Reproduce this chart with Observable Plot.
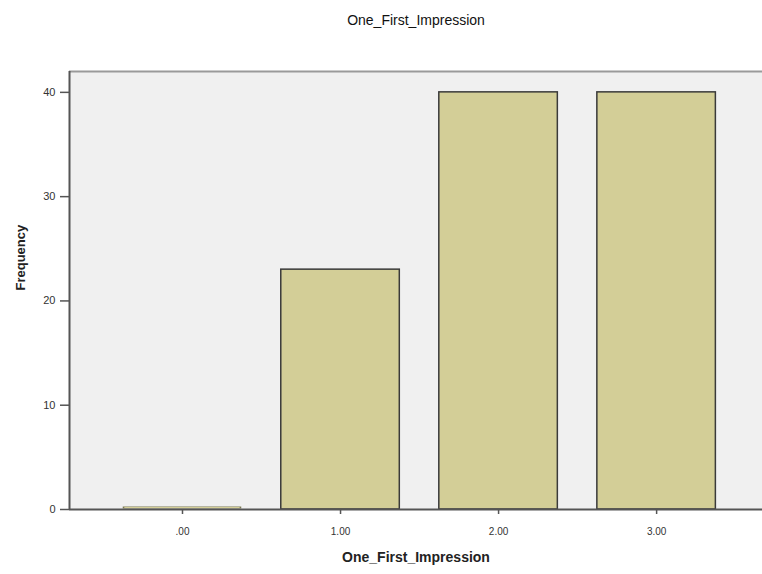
<!DOCTYPE html>
<html>
<head>
<meta charset="utf-8">
<script src="https://cdn.jsdelivr.net/npm/d3@7"></script>
<script src="https://cdn.jsdelivr.net/npm/@observablehq/plot@0.6"></script>
<style>
  body { margin: 0; background: #fff; }
  svg { font-family: "Liberation Sans", Arial, sans-serif; }
</style>
</head>
<body>
<div id="chart"></div>
<script>
const categories = [0, 1, 2, 3];
const xLabels = [".00", "1.00", "2.00", "3.00"];
const frequencies = [0, 23, 40, 40];
const yTicks = [0, 10, 20, 30, 40];
const title = "One_First_Impression";
const xTitle = "One_First_Impression";
const yTitle = "Frequency";

const data = categories.map((c, i) => ({ c, label: xLabels[i], f: frequencies[i] }));
const half = 0.375;

const chart = Plot.plot({
  width: 762,
  height: 574,
  marginTop: 71,
  marginLeft: 69,
  marginRight: 0,
  marginBottom: 65,
  style: { fontFamily: "'Liberation Sans', Arial, sans-serif", background: "#fff" },
  x: { type: "linear", domain: [-0.715, 3.67], label: null },
  y: { domain: [0, 42.0], label: null },
  marks: [
    Plot.frame({ fill: "#f0f0f0", stroke: null }),
    Plot.ruleY([42.0], { stroke: "#9a9a9a", strokeWidth: 2 }),
    Plot.rectY(data.filter(d => d.f > 0), {
      x1: d => d.c - half,
      x2: d => d.c + half,
      y1: 0,
      y2: "f",
      fill: "#d3ce97",
      stroke: "#3a3a3a",
      strokeWidth: 1.5
    }),
    Plot.ruleY(data.filter(d => d.f === 0), {
      x1: d => d.c - half,
      x2: d => d.c + half,
      y: "f",
      dy: -2,
      stroke: "#7d7a55",
      strokeWidth: 2
    }),
    Plot.ruleY(data.filter(d => d.f === 0), {
      x1: d => d.c - half + 0.01,
      x2: d => d.c + half - 0.01,
      y: "f",
      dy: -2,
      stroke: "#d3ce97",
      strokeWidth: 1
    }),
    Plot.ruleX([-0.715], { stroke: "#555", strokeWidth: 2 }),
    Plot.ruleY([0], { stroke: "#555", strokeWidth: 2 }),
    Plot.axisY(yTicks, {
      tickSize: 9,
      tickPadding: 5,
      fontSize: 11,
      stroke: "#555",
      strokeWidth: 1.5,
      color: "#333",
      label: null
    }),
    Plot.axisX(categories, {
      tickSize: 5,
      tickPadding: 13,
      fontSize: 10,
      stroke: "#555",
      strokeWidth: 1.5,
      color: "#333",
      tickFormat: d => xLabels[d],
      label: null
    }),
    Plot.text([title], {
      frameAnchor: "top",
      dy: -56,
      fontSize: 14,
      fontWeight: 500,
      fill: "#111",
      text: d => d
    }),
    Plot.text([xTitle], {
      frameAnchor: "bottom",
      dy: 52,
      fontSize: 14,
      fontWeight: "bold",
      fill: "#222",
      text: d => d
    }),
    Plot.text([yTitle], {
      frameAnchor: "left",
      dx: -49,
      rotate: -90,
      fontSize: 13,
      fontWeight: "bold",
      fill: "#222",
      text: d => d
    })
  ]
});
document.getElementById("chart").appendChild(chart);
</script>
</body>
</html>
